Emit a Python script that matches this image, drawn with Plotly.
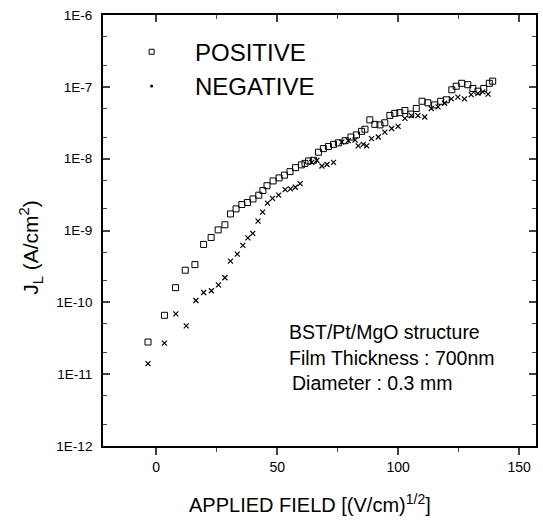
import plotly.graph_objects as go

# POSITIVE (open squares)
pos_x = [-3.4, 3.4, 8.0, 12.0, 16.0, 19.6, 22.7, 25.6, 28.4, 30.7, 33.0, 35.4, 37.7, 40.0,
         42.4, 44.1, 45.8, 48.3, 50.8, 53.0, 55.3, 57.6, 60.0, 61.5, 63.0, 65.0, 67.1, 69.1,
         71.2, 73.3, 75.3, 78.1, 80.5, 82.8, 84.9, 86.3, 88.3, 90.4, 92.5, 94.5, 96.6, 98.6,
         100.7, 102.8, 105.2, 107.5, 109.9, 112.3, 115.1, 117.6, 119.9, 122.2, 124.0, 126.3,
         128.8, 130.9, 133.0, 135.4, 137.7, 139.1]
pos_y = [2.8e-11, 6.6e-11, 1.6e-10, 2.8e-10, 3.35e-10, 6.4e-10, 8.0e-10, 1.02e-9, 1.2e-9,
         1.7e-9, 2.0e-9, 2.3e-9, 2.45e-9, 2.75e-9, 3.1e-9, 3.6e-9, 4.2e-9, 4.9e-9, 5.4e-9,
         5.9e-9, 6.6e-9, 7.5e-9, 8.2e-9, 8.6e-9, 9.3e-9, 9.5e-9, 1.23e-8, 1.38e-8, 1.48e-8,
         1.58e-8, 1.66e-8, 1.78e-8, 2.0e-8, 2.14e-8, 2.4e-8, 2.57e-8, 3.47e-8, 3.0e-8, 2.95e-8,
         3.16e-8, 4.0e-8, 4.27e-8, 4.37e-8, 4.68e-8, 4.17e-8, 5.0e-8, 6.3e-8, 6.0e-8, 5.6e-8,
         6.3e-8, 6.6e-8, 9.1e-8, 1.02e-7, 1.12e-7, 1.07e-7, 9.5e-8, 8.7e-8, 9.5e-8, 1.12e-7,
         1.2e-7]

# NEGATIVE (crosses)
neg_x = [-3.4, 3.4, 8.1, 12.4, 16.4, 19.6, 22.8, 25.7, 28.4, 30.7, 33.5, 35.8, 37.9, 39.9,
         42.1, 44.0, 46.0, 48.1, 50.6, 53.3, 55.5, 57.5, 59.5, 64.3, 66.4, 68.5, 70.6, 73.3,
         76.7, 79.4, 82.2, 83.5, 85.6, 87.0, 89.0, 91.8, 94.5, 97.3, 100.0, 102.8, 105.5,
         108.2, 111.0, 113.7, 116.5, 119.2, 122.0, 124.7, 127.4, 130.2, 133.0, 135.0, 137.2]
neg_y = [1.4e-11, 2.7e-11, 6.9e-11, 4.7e-11, 1.06e-10, 1.37e-10, 1.45e-10, 1.75e-10, 2.2e-10,
         3.75e-10, 4.7e-10, 6.2e-10, 7.9e-10, 9.1e-10, 1.35e-9, 1.8e-9, 2.4e-9, 2.8e-9, 3.1e-9,
         3.7e-9, 3.8e-9, 4.0e-9, 4.5e-9, 8.9e-9, 9.5e-9, 7.9e-9, 8.3e-9, 8.9e-9, 1.7e-8,
         1.78e-8, 1.82e-8, 1.51e-8, 1.58e-8, 1.51e-8, 1.9e-8, 2.0e-8, 2.34e-8, 2.63e-8,
         2.82e-8, 3.63e-8, 3.98e-8, 3.98e-8, 3.8e-8, 5.0e-8, 5.25e-8, 5.9e-8, 6.8e-8, 7.2e-8,
         6.8e-8, 7.8e-8, 8.1e-8, 8.5e-8, 7.9e-8]

y_tickvals = [1e-12, 1e-11, 1e-10, 1e-9, 1e-8, 1e-7, 1e-6]
y_ticktext = ["1E-12", "1E-11", "1E-10", "1E-9", "1E-8", "1E-7", "1E-6"]
x_tickvals = [0, 50, 100, 150]

legend_names = ["POSITIVE", "NEGATIVE"]
notes = ["BST/Pt/MgO structure", "Film Thickness : 700nm", "Diameter : 0.3 mm"]

FONT = "Liberation Sans, Arial, sans-serif"
PAD = "\u00a0\u00a0"

fig = go.Figure()
fig.add_trace(go.Scatter(x=pos_x, y=pos_y, mode="markers", showlegend=False,
                         marker=dict(symbol="square-open", size=6, color="black",
                                     line=dict(width=1, color="black"))))
fig.add_trace(go.Scatter(x=neg_x, y=neg_y, mode="markers", showlegend=False,
                         marker=dict(symbol="x-thin", size=5, color="black",
                                     line=dict(width=1.2, color="black"))))
# legend entries
fig.add_trace(go.Scatter(x=[None], y=[None], mode="markers", name=PAD + legend_names[0],
                         legendgroup="p",
                         marker=dict(symbol="square-open", size=5, color="black",
                                     line=dict(width=1, color="black"))))
fig.add_trace(go.Scatter(x=[None], y=[None], mode="markers", name=PAD + legend_names[1],
                         legendgroup="n",
                         marker=dict(symbol="circle", size=3, color="black")))
# top axis carrier
fig.add_trace(go.Scatter(x=[None], y=[None], xaxis="x2", showlegend=False))

for i, t in enumerate(notes):
    fig.add_annotation(text=t, xref="paper", yref="paper", x=0.425 + (0.007 if i == 2 else 0),
                       y=[0.2645, 0.204, 0.146][i], xanchor="left", yanchor="middle",
                       showarrow=False, font=dict(family=FONT, size=19.5, color="black"))

# axis titles placed as annotations
fig.add_annotation(text="J<sub>L</sub> (A/cm<sup>2</sup>)", xref="paper", yref="paper",
                   x=-0.166, y=0.46, xanchor="center", yanchor="middle", textangle=-90,
                   showarrow=False, font=dict(family=FONT, size=21, color="black"))
fig.add_annotation(text="APPLIED FIELD [(V/cm)<sup>1/2</sup>]", xref="paper", yref="paper",
                   x=0.477, y=-0.133, xanchor="center", yanchor="middle",
                   showarrow=False, font=dict(family=FONT, size=20, color="black"))

fig.update_layout(
    width=543, height=521,
    margin=dict(l=103, r=5, t=15, b=75),
    paper_bgcolor="white", plot_bgcolor="white",
    font=dict(family=FONT, color="black"),
    legend=dict(x=0.043, y=0.966, xanchor="left", yanchor="top",
                bgcolor="rgba(0,0,0,0)", font=dict(family=FONT, size=24, color="black"),
                tracegroupgap=0, itemsizing="trace", itemwidth=50),
    xaxis=dict(range=[-22, 157], tickvals=x_tickvals, ticks="outside", ticklen=7,
               tickwidth=1.5, showline=True, linewidth=1.8, linecolor="black", mirror=True,
               showgrid=False, zeroline=False,
               minor=dict(dtick=25, tick0=25, ticks="outside", ticklen=4, tickwidth=1.2,
                          showgrid=False),
               tickfont=dict(family=FONT, size=14, color="black")),
    xaxis2=dict(overlaying="x", side="top", range=[-22, 157], tickvals=x_tickvals,
                ticks="inside", ticklen=7, tickwidth=1.5, showticklabels=False,
                showgrid=False, zeroline=False, showline=False,
                minor=dict(dtick=25, tick0=25, ticks="inside", ticklen=4, tickwidth=1.2)),
    yaxis=dict(type="log", range=[-12, -6], tickvals=y_tickvals, ticktext=y_ticktext,
               ticks="inside", ticklen=7, tickwidth=1.5, showline=True, linewidth=1.8,
               linecolor="black", mirror="ticks", showgrid=False, zeroline=False,
               minor=dict(ticks="inside", ticklen=4, tickwidth=1, showgrid=False),
               tickfont=dict(family=FONT, size=13.5, color="black"), ticklabelstandoff=6),
)

fig.write_html("out.html")
